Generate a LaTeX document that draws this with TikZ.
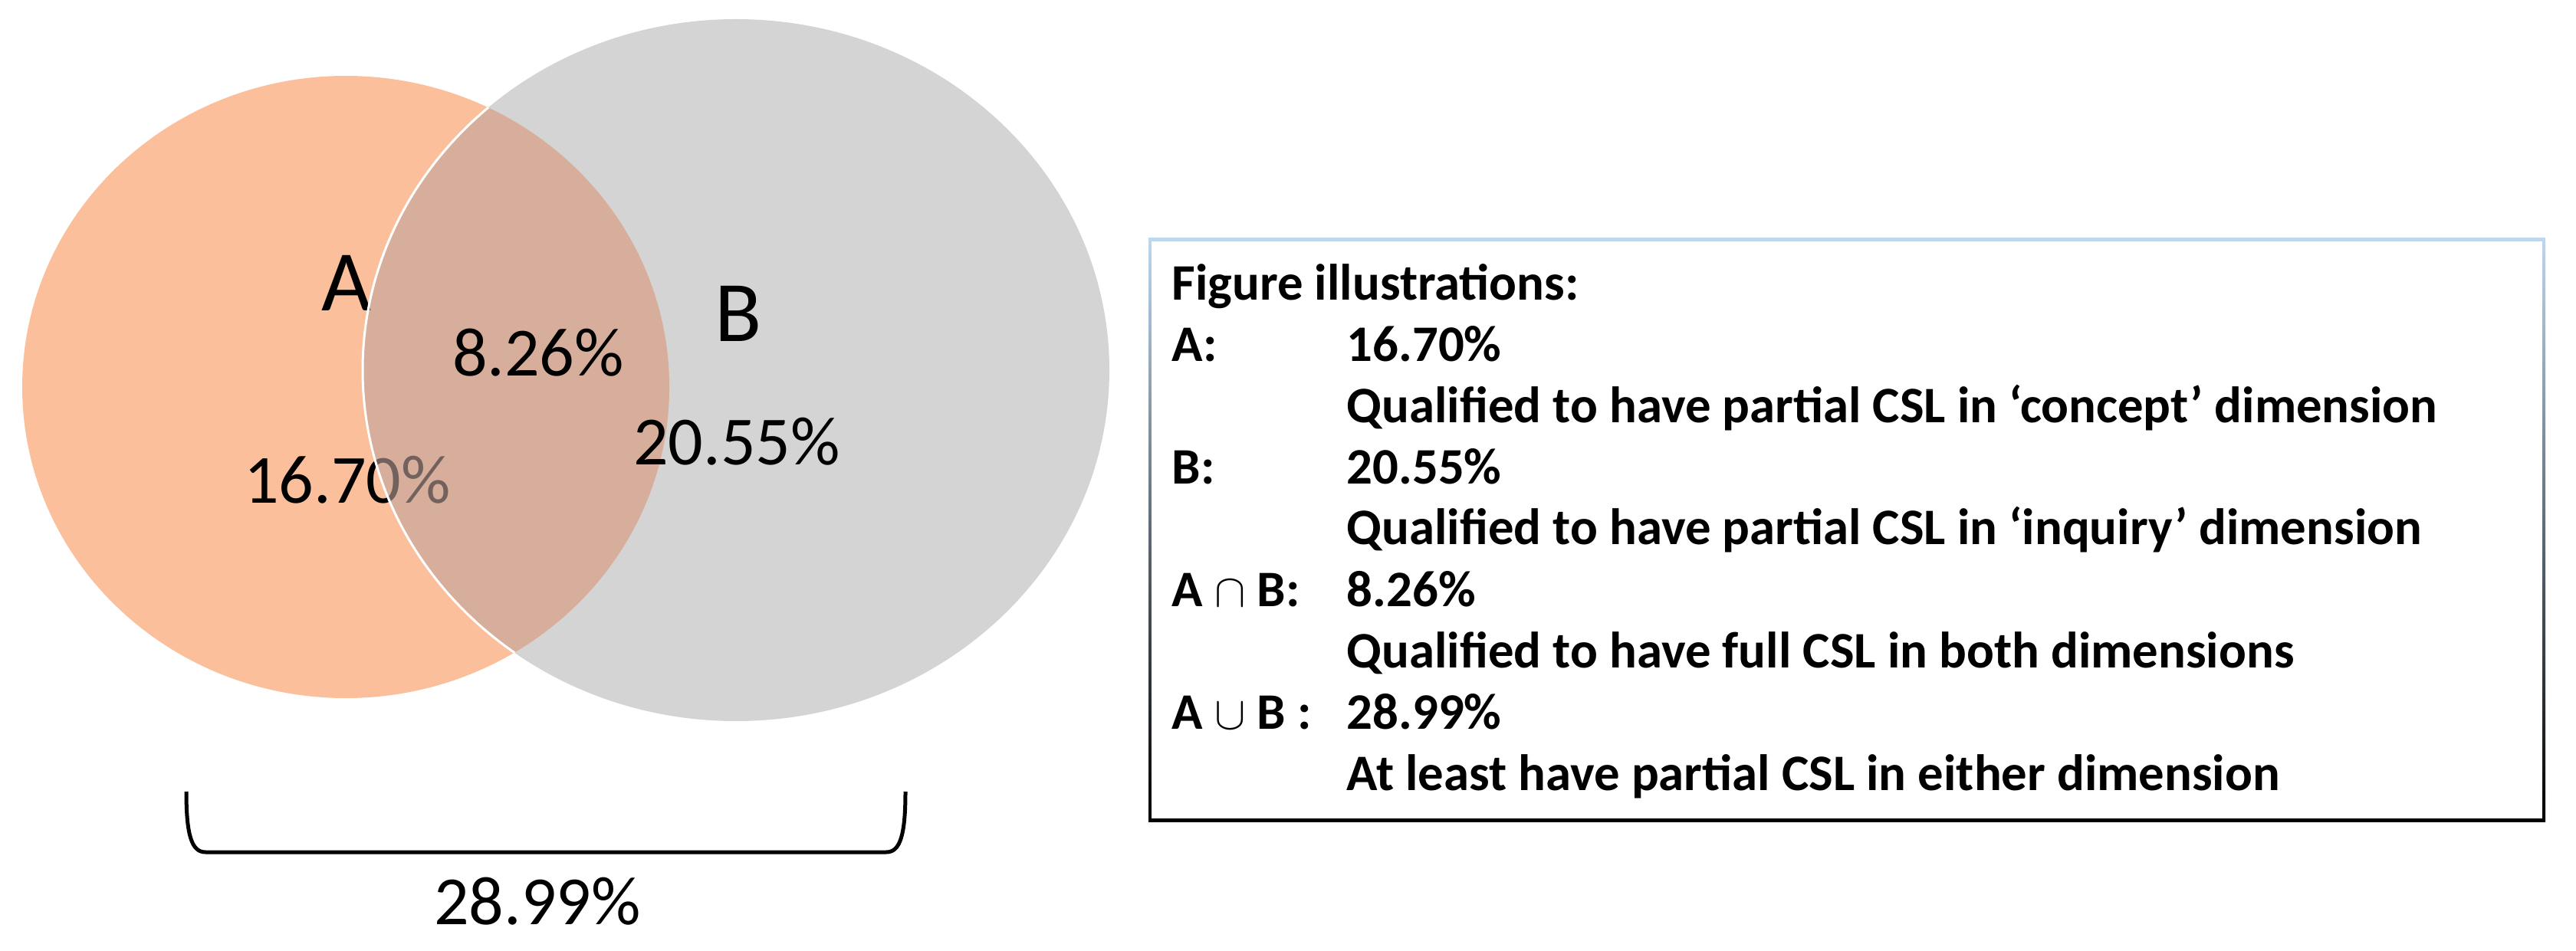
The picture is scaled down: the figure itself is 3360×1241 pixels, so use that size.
\documentclass[tikz,border=0pt]{standalone}
\usepackage{fontspec}
\setmainfont{Carlito}
\definecolor{setA}{RGB}{251,192,155}
\definecolor{setB}{RGB}{212,212,212}
\definecolor{overlap}{RGB}{191,163,156}
\definecolor{boxtop}{RGB}{189,215,238}
\tikzset{
  pct/.style={inner sep=0pt, font=\fontsize{25.6}{30}\selectfont},
  setname/.style={inner sep=0pt, font=\fontsize{32}{38}\selectfont},
  legend/.style={inner sep=0pt, anchor=base west, font=\fontsize{19}{23}\selectfont\bfseries},
}
\begin{document}
\begin{tikzpicture}[x=0.1mm,y=-0.1mm]
        \useasboundingbox (0,0) rectangle (3360,1241);
        % the two sets
        \fill[setB] (960,483) ellipse (487 and 458);
        \fill[setA] (451,505) ellipse (422 and 406);
        \node[setname] (labA) at (452,369) {A};
        \node[pct] (pctA) at (453,626) {16.70\%};
        \begin{scope}
          \clip (451,505) ellipse (422 and 406);
          \fill[overlap, fill opacity=0.6] (960,483) ellipse (487 and 458);
          \draw[white, line width=0.3mm] (960,483) ellipse (487 and 458);
        \end{scope}
        \node[setname] (labB) at (963,409) {B};
        \node[pct] (pctAB) at (702,460) {8.26\%};
        \node[pct] (pctB) at (961,576) {20.55\%};
        
        % brace under both sets
        \draw[line width=0.5mm] (243,1033) .. controls (243,1090) and (250,1112) .. (268,1112)
          -- (1156,1112) .. controls (1174,1112) and (1181,1090) .. (1181,1033);
        \node[pct] (total) at (701,1176) {28.99\%};
        
        % legend box
        \shade[top color=boxtop, bottom color=black] (1498,311) rectangle (3320,1072);
        \fill[white] (1502,315) rectangle (3316,1068);
        \node[legend] (title) at (1528,392) {Figure illustrations:};
        \node[legend] (keyA) at (1528,472) {A:};
        \node[legend] (valA) at (1756,472) {16.70\%};
        \node[legend] (txtA) at (1756,552) {Qualified to have partial CSL in ‘concept’ dimension};
        \node[legend] (keyB) at (1528,632) {B:};
        \node[legend] (valB) at (1756,632) {20.55\%};
        \node[legend] (txtB) at (1756,711) {Qualified to have partial CSL in ‘inquiry’ dimension};
        \node[legend] (keyAB) at (1528,791) {A $\cap$ B:};
        \node[legend] (valAB) at (1756,791) {8.26\%};
        \node[legend] (txtAB) at (1756,871) {Qualified to have full CSL in both dimensions};
        \node[legend] (keyAuB) at (1528,951) {A $\cup$ B :};
        \node[legend] (valAuB) at (1756,951) {28.99\%};
        \node[legend] (txtAuB) at (1756,1031) {At least have partial CSL in either dimension};
\end{tikzpicture}
\end{document}
